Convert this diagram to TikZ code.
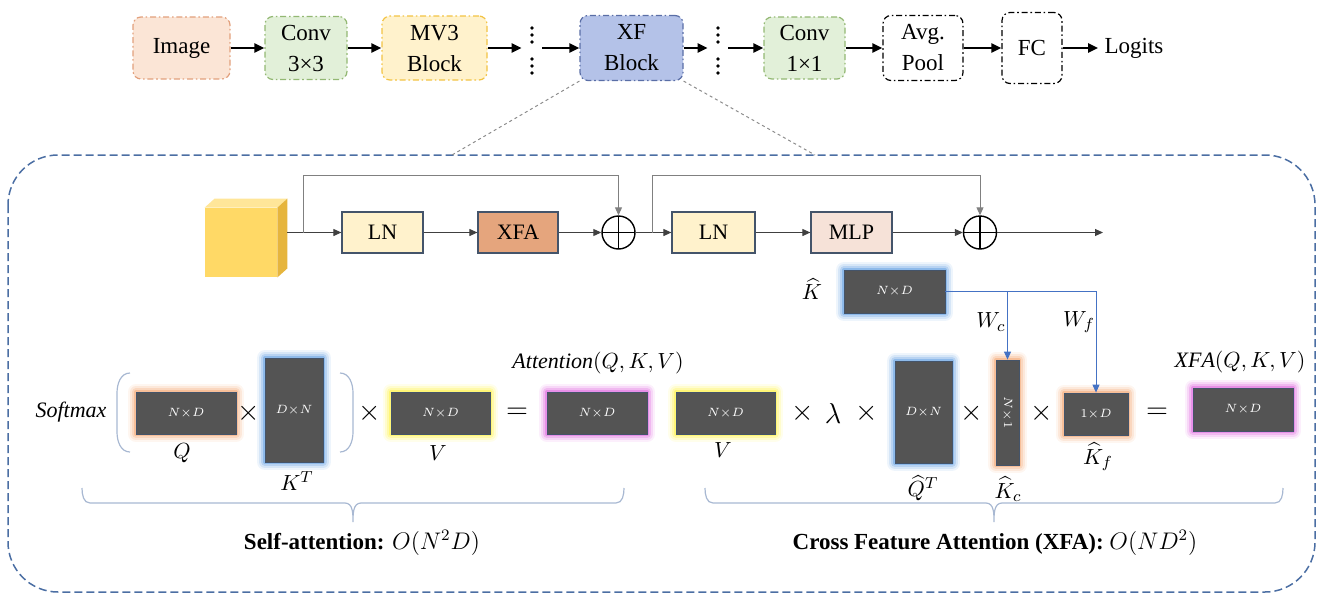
\documentclass[tikz,border=0pt]{standalone}
\usepackage{amsmath}
\usepackage{fontspec}
\setmainfont{Liberation Serif}
\usetikzlibrary{
  positioning,
  arrows.meta,
  calc
}
\definecolor{imgfill}{HTML}{FBE5D6}
\definecolor{imgline}{HTML}{E2A07C}
\definecolor{convfill}{HTML}{E2F0D9}
\definecolor{convline}{HTML}{93B873}
\definecolor{mvfill}{HTML}{FFF2CC}
\definecolor{mvline}{HTML}{F2C344}
\definecolor{xffill}{HTML}{B4C2E8}
\definecolor{xfline}{HTML}{5A6EA6}
\definecolor{lnfill}{HTML}{FFF2CC}
\definecolor{xfafill}{HTML}{E5A57D}
\definecolor{mlpfill}{HTML}{F6E2D8}
\definecolor{opline}{HTML}{44546A}
\definecolor{matfill}{HTML}{545454}
\definecolor{glowor}{HTML}{F4A36B}
\definecolor{glowbl}{HTML}{5B9BE0}
\definecolor{glowye}{HTML}{FFF23A}
\definecolor{glowpk}{HTML}{DD5EDD}
\definecolor{frameblue}{HTML}{4B6EA3}
\definecolor{wblue}{HTML}{4472C4}
\definecolor{bracecol}{HTML}{A8B8D2}
\definecolor{cubefront}{HTML}{FFD966}
\definecolor{cubetop}{HTML}{FFE699}
\definecolor{cubeside}{HTML}{E6B53D}
\tikzset{
  stage/.style={
    draw,
    rounded corners=4pt,
    line width=0.6pt,
    dash pattern=on 3pt off 1.4pt on 0.8pt off 1.4pt,
    align=center,
    inner sep=0pt,
    font=\fontsize{11.5}{15.5}\selectfont,
  },
  bigedge/.style={
    line width=1.2pt,
    -{Triangle[length=5pt,width=4.5pt]},
  },
  op/.style={
    draw=opline,
    line width=0.6pt,
    minimum width=40.5pt,
    minimum height=20.5pt,
    inner sep=0pt,
    font=\fontsize{11}{13}\selectfont,
  },
  addop/.style={
    circle,
    draw,
    line width=0.7pt,
    minimum size=16.5pt,
    inner sep=0pt,
    path picture={
      \draw[line width=0.7pt]
        (path picture bounding box.north) -- (path picture bounding box.south)
        (path picture bounding box.west) -- (path picture bounding box.east);
    },
  },
  edge/.style={
    black!75,
    line width=0.5pt,
    -{Triangle[length=4pt,width=3.5pt]},
  },
  skip/.style={
    edge,
    black!50,
  },
  wedge/.style={
    wblue,
    line width=0.5pt,
    -{Triangle[length=4pt,width=3.5pt]},
  },
  mtx/.style={
    fill=matfill,
    draw=opline,
    line width=0.4pt,
    inner sep=0pt,
    text=white,
    font=\fontsize{6.5}{7}\selectfont,
    preaction={draw=#1, line width=8pt, line join=round, opacity=0.10},
    preaction={draw=#1, line width=6pt, line join=round, opacity=0.16},
    preaction={draw=#1, line width=4pt, line join=round, opacity=0.25},
    preaction={draw=#1, line width=2pt, line join=round, opacity=0.45},
  },
  mlbl/.style={
    font=\fontsize{11}{13}\selectfont,
    inner sep=1pt,
  },
  opsym/.style={
    font=\fontsize{14}{16}\selectfont,
    inner sep=0pt,
  },
  caption/.style={
    font=\fontsize{11.5}{14}\selectfont,
    inner sep=1pt,
  },
  bracket/.style={
    draw=bracecol,
    line width=0.6pt,
  },
}
% under-brace: left x, tip x, right x, top y
\newcommand{\underbrc}[4]{%
  \draw[bracket] (#1,#4) to[out=-90,in=180] ($(#1,#4)+(8,15)$)
    -- ($(#2,#4)+(-8,15)$) to[out=0,in=90] ($(#2,#4)+(0,34)$)
    to[out=90,in=180] ($(#2,#4)+(8,15)$)
    -- ($(#3,#4)+(-8,15)$) to[out=0,in=-90] (#3,#4);}

\begin{document}
\begin{tikzpicture}[x=0.5pt, y=-0.5pt]
	\useasboundingbox (0,0) rectangle (1322,600);

	% backbone
	\node[stage, fill=imgfill, draw=imgline, minimum width=48.5pt, minimum height=31pt] (image) at (181.5,48) {Image};
	\node[stage, fill=convfill, draw=convline, minimum width=41pt, minimum height=31.5pt] (conv3) at (306,48) {Conv\\3×3};
	\node[stage, fill=mvfill, draw=mvline, minimum width=52.5pt, minimum height=32pt] (mv3) at (434.5,48) {MV3\\Block};
	\node[minimum width=10pt, minimum height=30pt, inner sep=0pt] (dotsA) at (532,48) {};
	\node[stage, fill=xffill, draw=xfline, minimum width=51.5pt, minimum height=32.5pt] (xf) at (631.5,48) {XF\\Block};
	\node[minimum width=10pt, minimum height=30pt, inner sep=0pt] (dotsB) at (718,48) {};
	\node[stage, fill=convfill, draw=convline, minimum width=40.5pt, minimum height=31pt] (conv1) at (804.5,48) {Conv\\1×1};
	\node[stage, draw=black, minimum width=40pt, minimum height=32.5pt] (pool) at (923,48) {Avg.\\Pool};
	\node[stage, draw=black, minimum width=30pt, minimum height=35.5pt] (fc) at (1032,48) {FC};
	\node[font=\fontsize{11.5}{14}\selectfont, inner sep=3pt] (logits) at (1134,48) {Logits};

	\foreach \d in {-20,-13,-6,11,18,25} {
		\fill ($(dotsA)+(0,\d)$) circle (0.9pt);
		\fill ($(dotsB)+(0,\d)$) circle (0.9pt);
	}

	\draw[bigedge] (image) -- (conv3);
	\draw[bigedge] (conv3) -- (mv3);
	\draw[bigedge] (mv3) -- (dotsA.west);
	\draw[bigedge] (dotsA.east) -- (xf);
	\draw[bigedge] (xf) -- (dotsB.west);
	\draw[bigedge] (dotsB.east) -- (conv1);
	\draw[bigedge] (conv1) -- (pool);
	\draw[bigedge] (pool) -- (fc);
	\draw[bigedge] (fc) -- (logits);

	% zoomed block
	\coordinate (zoomL) at (452,155);
	\coordinate (zoomR) at (815,155);
	\draw[frameblue, line width=0.75pt, dash pattern=on 4pt off 2pt, rounded corners=25pt] (8,155) rectangle (1315,592);
	\draw[black!45, line width=0.5pt, dash pattern=on 1.5pt off 1.5pt] (xf.south west) -- (zoomL);
	\draw[black!45, line width=0.5pt, dash pattern=on 1.5pt off 1.5pt] (xf.south east) -- (zoomR);

	% token cube
	\node[fill=cubefront, minimum width=36pt, minimum height=34.5pt, inner sep=0pt] (cube) at (241,242.5) {};
	\fill[cubetop] (cube.north west) -- ($(cube.north west)+(10,-9)$) -- ($(cube.north east)+(10,-9)$) -- (cube.north east) -- cycle;
	\fill[cubeside] (cube.north east) -- ($(cube.north east)+(10,-9)$) -- ($(cube.south east)+(10,-9)$) -- (cube.south east) -- cycle;
	\coordinate (cubeout) at ($(cube.east)+(10,-10)$);

	\node[op, fill=lnfill] (ln1) at (382.5,232.5) {LN};
	\node[op, fill=xfafill, minimum width=40pt] (xfa) at (518,232.5) {XFA};
	\node[addop] (add1) at (618.5,232.5) {};
	\node[op, fill=lnfill, minimum width=41.5pt] (ln2) at (713.5,232.5) {LN};
	\node[op, fill=mlpfill] (mlp) at (851.5,232.5) {MLP};
	\node[addop] (add2) at (980,232.5) {};
	\coordinate (blkout) at (1103,232.5);
	\coordinate (br1) at (303,232.5);
	\coordinate (br2) at (652,232.5);

	\draw[edge] (cubeout) -- (ln1);
	\draw[edge] (ln1) -- (xfa);
	\draw[edge] (xfa) -- (add1);
	\draw[edge] (add1) -- (ln2);
	\draw[edge] (ln2) -- (mlp);
	\draw[edge] (mlp) -- (add2);
	\draw[edge] (add2) -- (blkout);
	\draw[skip] (br1) -- ++(0,-57.5) -| (add1.north);
	\draw[skip] (br2) -- ++(0,-57.5) -| (add2.north);

	% self-attention
	\node[font=\fontsize{11}{13}\selectfont\itshape, inner sep=0pt] (softmax) at (71,412) {Softmax};
	\draw[bracket] (130,373) to[out=180,in=90] (117,393) -- (117,432) to[out=-90,in=180] (130,452);
	\draw[bracket] (340,373) to[out=0,in=90] (353,393) -- (353,432) to[out=-90,in=0] (340,452);
	\node[mtx=glowor, minimum width=50pt, minimum height=21pt] (q) at (186,413) {$N{\times}D$};
	\node[mtx=glowbl, minimum width=29pt, minimum height=52pt] (kt) at (294,410) {$D{\times}N$};
	\node[mtx=glowye, minimum width=49.5pt, minimum height=21pt] (v) at (440.5,413) {$N{\times}D$};
	\node[mtx=glowpk, minimum width=50pt, minimum height=21pt] (att) at (597,413) {$N{\times}D$};
	\node[opsym] (x1) at (249,413) {$\times$};
	\node[opsym] (x2) at (370,413) {$\times$};
	\node[opsym] (eq1) at (517,413) {$=$};
	\node[mlbl] (qlbl) at (182,453) {$Q$};
	\node[mlbl] (ktlbl) at (297,481) {$K^T$};
	\node[mlbl] (vlbl) at (438,453) {$V$};
	\node[mlbl] (attlbl) at (598,363) {$\mathit{Attention}(Q,K,V)$};

	% cross feature attention
	\node[mtx=glowbl, minimum width=50.5pt, minimum height=21.5pt] (khat) at (894.5,291.5) {$N{\times}D$};
	\node[mlbl] (khatlbl) at (812,289) {$\widehat{K}$};
	\node[mtx=glowye, minimum width=49.5pt, minimum height=21pt] (v2) at (725.5,413) {$N{\times}D$};
	\node[mtx=glowbl, minimum width=28.5pt, minimum height=51pt] (qt) at (923.5,412) {$D{\times}N$};
	\node[mtx=glowor, minimum width=11.5pt, minimum height=52.5pt] (kc) at (1007.5,412.5) {\rotatebox{-90}{$N{\times}1$}};
	\node[mtx=glowor, minimum width=32pt, minimum height=21pt] (kf) at (1096,414) {$1{\times}D$};
	\node[mtx=glowpk, minimum width=50pt, minimum height=21.5pt] (xfares) at (1243,409.5) {$N{\times}D$};
	\node[opsym] (x3) at (803,413) {$\times$};
	\node[opsym] (lam) at (833,413) {$\lambda$};
	\node[opsym] (x4) at (867,413) {$\times$};
	\node[opsym] (x5) at (972,413) {$\times$};
	\node[opsym] (x6) at (1042,413) {$\times$};
	\node[opsym] (eq2) at (1157,413) {$=$};
	\node[mlbl] (v2lbl) at (723,450) {$V$};
	\node[mlbl] (qtlbl) at (923,488) {$\widehat{Q}^T$};
	\node[mlbl] (kclbl) at (1008,489) {$\widehat{K}_c$};
	\node[mlbl] (kflbl) at (1098,457) {$\widehat{K}_f$};
	\node[mlbl] (xfalbl) at (1240,362) {$\mathit{XFA}(Q,K,V)$};

	\draw[wedge] (khat.east) -| (kc.north);
	\draw[wedge] (khat.east) -| (kf.north);
	\node[mlbl] (wc) at (991,322) {$W_c$};
	\node[mlbl] (wf) at (1079,322) {$W_f$};

	% complexity braces
	\underbrc{82}{353}{624}{488}
	\underbrc{705}{994}{1283}{488}
	\node[caption] (sacap) at (362,543) {\textbf{Self-attention:} $O(N^2D)$};
	\node[caption] (xfacap) at (995,543) {\textbf{Cross Feature Attention (XFA):} $O(ND^2)$};

\end{tikzpicture}
\end{document}
